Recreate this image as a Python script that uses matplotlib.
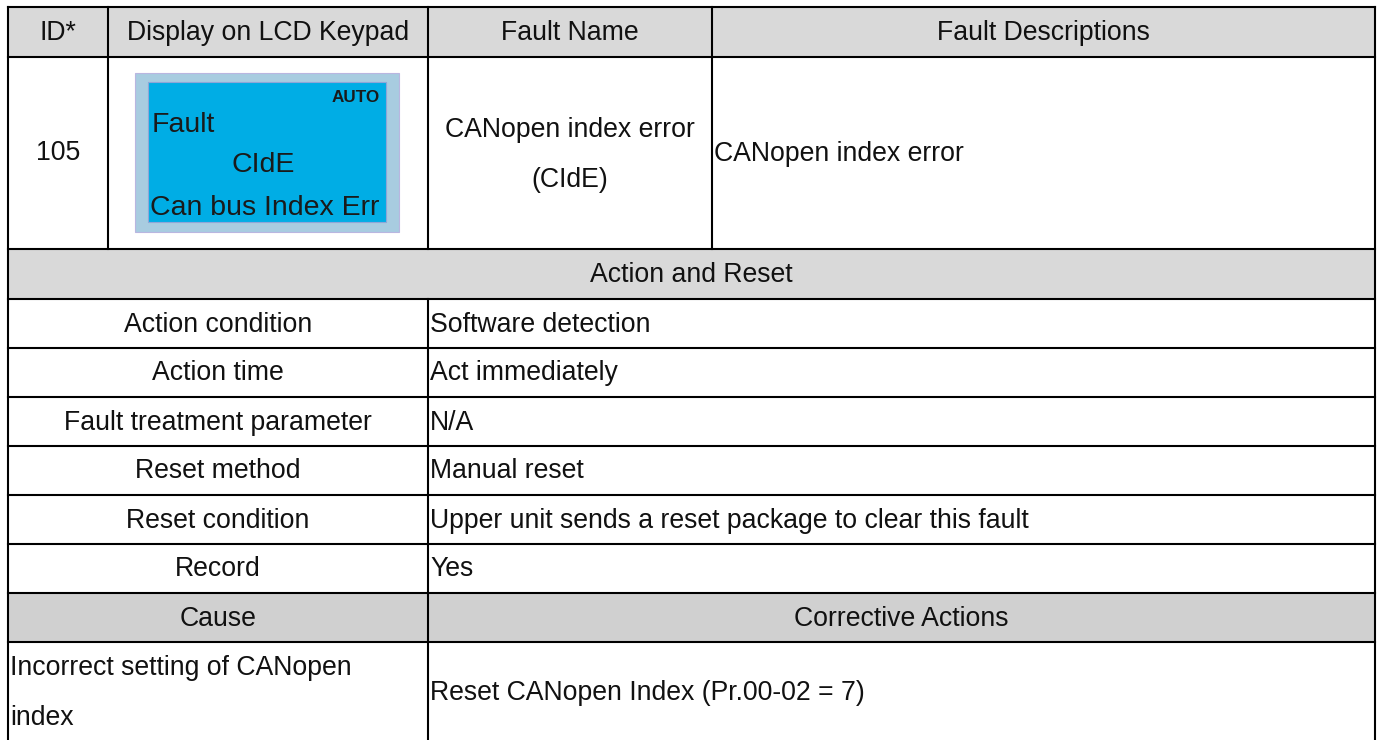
import matplotlib
matplotlib.use('Agg')
import matplotlib.pyplot as plt
from matplotlib.patches import Rectangle

# ---- table content ----
header_labels = ['ID*', 'Display on LCD Keypad', 'Fault Name', 'Fault Descriptions']
fault_id = '105'
fault_name = ['CANopen index error', '(CIdE)']
fault_desc = 'CANopen index error'
lcd_lines = ['Fault', 'CIdE', 'Can bus Index Err']
lcd_mode = 'AUTO'

section_title = 'Action and Reset'
action_labels = ['Action condition', 'Action time', 'Fault treatment parameter',
                 'Reset method', 'Reset condition', 'Record']
action_values = ['Software detection', 'Act immediately', 'N/A',
                 'Manual reset', 'Upper unit sends a reset package to clear this fault', 'Yes']

cause_header = ['Cause', 'Corrective Actions']
causes = ['Incorrect setting of CANopen\nindex']
actions = ['Reset CANopen Index (Pr.00-02 = 7)']

# ---- layout (pixels) ----
W, H = 1377, 740
X0, X1 = 8, 1375
col_x = [X0, 108, 428, 712, X1]
y_top = 7
y_head = 57
y_row1 = 249
row_h = 49
FS = 19.2
LS = 2.22
TXT = '#111111'
LCD_TXT = '#1a1a1a'
GRAY = '#d9d9d9'
GRAY2 = '#d0d0d0'

plt.rcParams['font.family'] = ['Liberation Sans', 'DejaVu Sans']

fig = plt.figure(figsize=(W / 100, H / 100), dpi=100)
ax = fig.add_axes([0, 0, 1, 1])
ax.set_xlim(0, W)
ax.set_ylim(H, 0)
ax.axis('off')

lw = 1.5


def hline(y, xa=X0, xb=X1):
    ax.plot([xa, xb], [y, y], color='black', lw=lw, solid_capstyle='projecting')


def vline(x, ya, yb):
    ax.plot([x, x], [ya, yb], color='black', lw=lw, solid_capstyle='projecting')


def fill(xa, ya, xb, yb, color):
    ax.add_patch(Rectangle((xa, ya), xb - xa, yb - ya, facecolor=color, edgecolor='none', zorder=0))


# header row
fill(X0, y_top, X1, y_head, GRAY)
for i, lab in enumerate(header_labels):
    ax.text((col_x[i] + col_x[i + 1]) / 2, (y_top + y_head) / 2 + 1, lab,
            ha='center', va='center', fontsize=FS, color=TXT)

# fault row
ym = (y_head + y_row1) / 2
ax.text((col_x[0] + col_x[1]) / 2, ym, fault_id, ha='center', va='center', fontsize=FS, color=TXT)
ax.text((col_x[2] + col_x[3]) / 2, ym + 2, '\n'.join(fault_name), ha='center', va='center',
        fontsize=FS, color=TXT, linespacing=LS)
ax.text(col_x[3] + 2, ym + 1, fault_desc, ha='left', va='center', fontsize=FS, color=TXT)

# LCD keypad picture
ax.add_patch(Rectangle((135, 73), 264, 159, facecolor='#a8cce0', edgecolor='#b9b6e0', lw=0.8))
ax.add_patch(Rectangle((148, 82), 238, 140, facecolor='#00ade5', edgecolor='#8ea6d8', lw=0.8))
ax.text(380, 102, lcd_mode, ha='right', va='baseline', fontsize=12.3, fontweight='bold', color=LCD_TXT)
ax.text(152, 132, lcd_lines[0], ha='left', va='baseline', fontsize=20.5, color=LCD_TXT)
ax.text(263, 172, lcd_lines[1], ha='center', va='baseline', fontsize=20.5, color=LCD_TXT)
ax.text(265, 215, lcd_lines[2], ha='center', va='baseline', fontsize=20.5, color=LCD_TXT)

# action and reset section
y_sec = y_row1 + 50
fill(X0, y_row1, X1, y_sec, GRAY)
ax.text((X0 + X1) / 2, (y_row1 + y_sec) / 2 + 1, section_title, ha='center', va='center',
        fontsize=FS, color=TXT)
row_tops = [y_sec + i * row_h for i in range(len(action_labels) + 1)]
for i, (lab, val) in enumerate(zip(action_labels, action_values)):
    yc = (row_tops[i] + row_tops[i + 1]) / 2 + 1
    ax.text((X0 + col_x[2]) / 2, yc, lab, ha='center', va='center', fontsize=FS, color=TXT)
    ax.text(col_x[2] + 2, yc, val, ha='left', va='center', fontsize=FS, color=TXT)

# cause section
y_cause = row_tops[-1]
y_cause_end = y_cause + row_h
fill(X0, y_cause, X1, y_cause_end, GRAY2)
ax.text((X0 + col_x[2]) / 2, (y_cause + y_cause_end) / 2 + 1, cause_header[0],
        ha='center', va='center', fontsize=FS, color=TXT)
ax.text((col_x[2] + X1) / 2, (y_cause + y_cause_end) / 2 + 1, cause_header[1],
        ha='center', va='center', fontsize=FS, color=TXT)
yc = (y_cause_end + H) / 2 + 2
ax.text(X0 + 2, yc, causes[0], ha='left', va='center', fontsize=FS, color=TXT, linespacing=LS)
ax.text(col_x[2] + 2, yc, actions[0], ha='left', va='center', fontsize=FS, color=TXT)

# grid lines
hline(y_top)
hline(y_head)
hline(y_row1)
for y in row_tops:
    hline(y)
hline(y_cause_end)
vline(X0, y_top, H)
vline(X1, y_top, H)
for x in col_x[1:4]:
    vline(x, y_top, y_row1)
vline(col_x[2], y_sec, H)

fig.savefig('out.png', dpi=100)
